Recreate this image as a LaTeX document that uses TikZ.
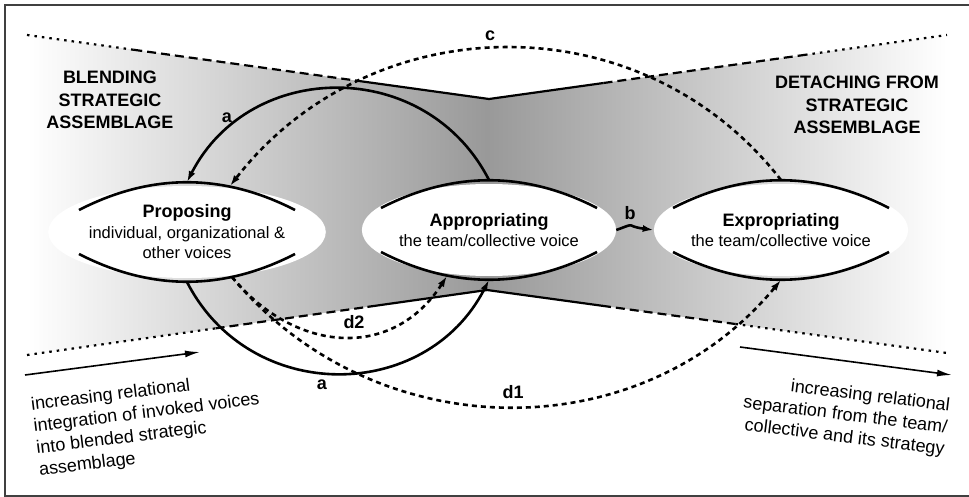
\documentclass[tikz,border=0pt]{standalone}
\usepackage{fontspec}
\setmainfont{Liberation Sans}
\usetikzlibrary{shapes.geometric, arrows.meta, calc}
\tikzset{
  stage/.style={ellipse, fill=white, minimum width=212pt, minimum height=92pt,
    inner sep=0pt, align=center, font=\fontsize{16.5}{20.5}\selectfont},
  title/.style={font=\bfseries\fontsize{18}{22.5}\selectfont, align=center},
  lbl/.style={font=\bfseries\fontsize{18}{21}\selectfont, inner sep=1pt},
  note/.style={font=\fontsize{18}{22}\selectfont, inner sep=0pt},
  rim/.style={line width=2.6pt},
  edge/.style={line width=2.2pt},
  fine/.style={edge, dash pattern=on 2.5pt off 5pt},
  coarse/.style={edge, dash pattern=on 9pt off 5pt},
  flow/.style={line width=2.6pt, -{Latex[length=11pt,width=7pt]}},
  dflow/.style={flow, dash pattern=on 5pt off 4pt},
  trend/.style={line width=1.6pt, -{Latex[length=15pt,width=7pt]}}
}

\begin{document}
\begin{tikzpicture}[x=1pt, y=-1pt]
  \useasboundingbox (0,0) rectangle (969,497);
  \draw[line width=1.2pt, black!75] (969,5) -- (5,5) -- (5,496) -- (969,496);

  % the band between both assemblages
  \coordinate (tl) at (27,35);
  \coordinate (tn) at (489,99);
  \coordinate (tr) at (947,35);
  \coordinate (br) at (947,353);
  \coordinate (bn) at (487,290);
  \coordinate (bl) at (27,355);
  \shade[left color=white, right color=white, middle color=black!40]
    (tl) -- (tn) -- (tr) -- (br) -- (bn) -- (bl) -- cycle;

  \draw[fine] (tl) -- ($(tl)!0.23!(tn)$);
  \draw[coarse] ($(tl)!0.23!(tn)$) -- ($(tl)!0.71!(tn)$);
  \draw[edge] ($(tl)!0.71!(tn)$) -- (tn) -- ($(tn)!0.25!(tr)$);
  \draw[coarse] ($(tn)!0.25!(tr)$) -- ($(tn)!0.69!(tr)$);
  \draw[fine] ($(tn)!0.69!(tr)$) -- (tr);
  \draw[fine] (bl) -- ($(bl)!0.41!(bn)$);
  \draw[coarse] ($(bl)!0.41!(bn)$) -- ($(bl)!0.74!(bn)$);
  \draw[edge] ($(bl)!0.74!(bn)$) -- (bn) -- ($(bn)!0.25!(br)$);
  \draw[coarse] ($(bn)!0.25!(br)$) -- ($(bn)!0.54!(br)$);
  \draw[fine] ($(bn)!0.54!(br)$) -- (br);

  \node (blend) [title] at (110,100) {BLENDING\\STRATEGIC\\ASSEMBLAGE};
  \node (detach) [title] at (857,105) {DETACHING FROM\\STRATEGIC\\ASSEMBLAGE};

  % the three stages
  \node (prop) [stage] at (187,232) {\textbf{\fontsize{18}{21}\selectfont Proposing}\\
    individual, organizational \&\\other voices};
  \node (appr) [stage] at (489,230) {\textbf{\fontsize{18}{21}\selectfont Appropriating}\\
    the team/collective voice};
  \node (expr) [stage] at (781,230) {\textbf{\fontsize{18}{21}\selectfont Expropriating}\\
    the team/collective voice};

  \foreach \n in {prop, appr, expr} {
    \draw[rim] ($(\n)+(-108,-22)$) .. controls ($(\n)+(-36,-59)$) and ($(\n)+(36,-59)$) .. ($(\n)+(108,-22)$);
    \draw[rim] ($(\n)+(-108,22)$) .. controls ($(\n)+(-36,59)$) and ($(\n)+(36,59)$) .. ($(\n)+(108,22)$);
  }

  \coordinate (prop-n) at ($(prop)+(0,-50)$);
  \coordinate (prop-ne) at ($(prop)+(43,-46)$);
  \coordinate (prop-s) at ($(prop)+(0,50)$);
  \coordinate (prop-se) at ($(prop)+(45,45)$);
  \coordinate (appr-n) at ($(appr)+(0,-50)$);
  \coordinate (appr-s) at ($(appr)+(0,50)$);
  \coordinate (appr-sw) at ($(appr)+(-42,46)$);
  \coordinate (expr-n) at ($(expr)+(0,-50)$);
  \coordinate (expr-s) at ($(expr)+(0,50)$);

  \draw[flow] (appr-n) .. controls +(-63,-123) and +(63,-123) .. (prop-n);
  \draw[flow] (prop-s) .. controls +(63,123) and +(-63,123) .. (appr-s);
  \draw[flow] (appr.east) .. controls +(22,-8) and +(-30,-4) .. (expr.west);
  \draw[dflow] (expr-n) .. controls +(-140,-180) and +(140,-180) .. (prop-ne);
  \draw[dflow] (prop-se) .. controls +(142,171) and +(-142,171) .. (expr-s);
  \draw[dflow] (prop-se) .. controls +(64,77) and +(-54,84) .. (appr-sw);

  \node (lab-a1) [lbl] at (227,118) {a};
  \node (lab-a2) [lbl] at (322,385) {a};
  \node (lab-b) [lbl] at (630,213) {b};
  \node (lab-c) [lbl] at (490,36) {c};
  \node (lab-d1) [lbl] at (513,392) {d1};
  \node (lab-d2) [lbl] at (354,322) {d2};

  % trends below the band
  \coordinate (in-s) at (25,375);
  \coordinate (in-e) at (200,352);
  \coordinate (out-s) at (740,347);
  \coordinate (out-e) at (952,375);
  \draw[trend] (in-s) -- (in-e);
  \draw[trend] (out-s) -- (out-e);
  \node (integ) [note, rotate=7, anchor=north west, align=left] at (30,397)
    {increasing relational\\integration of invoked voices\\into blended strategic\\assemblage};
  \node (separ) [note, rotate=-7, anchor=north east, align=right] at (951,398)
    {increasing relational\\separation from the team/\\collective and its strategy};
\end{tikzpicture}
\end{document}
